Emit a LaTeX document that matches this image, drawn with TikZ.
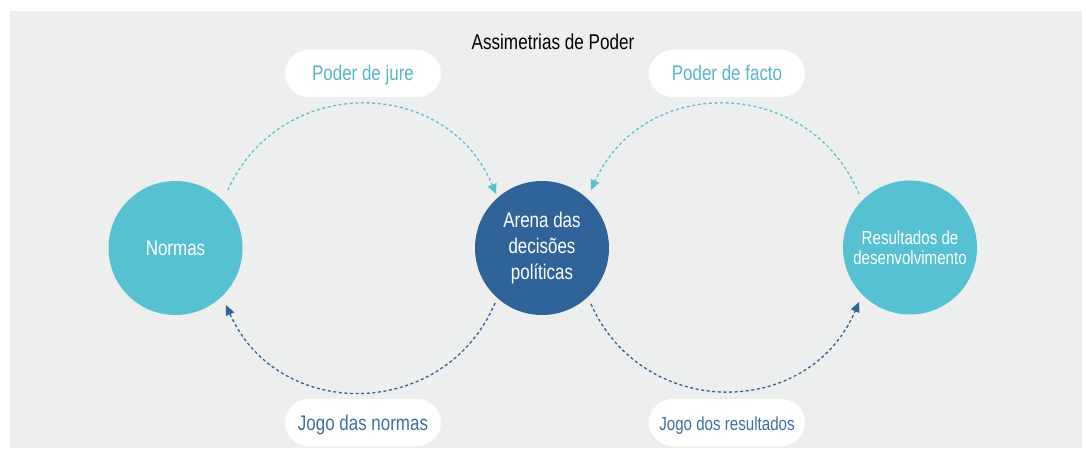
\documentclass[tikz,border=0pt]{standalone}
\usepackage{fontspec}
\setmainfont[FakeStretch=0.8]{Liberation Sans}
\usetikzlibrary{arrows.meta}
\definecolor{bggray}{HTML}{EDEEEE}
\definecolor{teal1}{HTML}{56C1D3}
\definecolor{navy1}{HTML}{2F6399}
\definecolor{tealtxt}{HTML}{5BB5C8}
\definecolor{navytxt}{HTML}{3E6FA8}
\tikzset{
  bubble/.style={circle, minimum size=134pt, inner sep=0pt, text=white, align=center,
    font=\fontsize{21.2}{26}\selectfont},
  pill/.style={rounded corners=23.5pt, fill=white, minimum width=156pt, minimum height=47pt,
    inner sep=0pt, text height=15pt, text depth=0pt, font=\fontsize{21.2}{24}\selectfont},
  flow/.style={line width=1.3pt, dash pattern=on 3pt off 2.6pt,
    -{Triangle[length=10pt,width=9pt]}},
}
\begin{document}
\begin{tikzpicture}[x=1pt,y=1pt]
\useasboundingbox (0,0) rectangle (1086,448);
\fill[bggray] (10,0) rectangle (1082,437);

\node[font=\fontsize{21.4}{24}\selectfont, anchor=base] (title) at (553,398) {Assimetrias de Poder};

\node[bubble, fill=teal1] (normas) at (175.5,200) {Normas};
\node[bubble, fill=navy1] (arena) at (542,200) {Arena das\\decisões\\políticas};
\node[bubble, fill=teal1, font=\fontsize{18.9}{20.5}\selectfont] (result) at (910,200.5) {Resultados de\\desenvolvimento};

\node[pill, text=tealtxt] (jure) at (363,374.5) {Poder de jure};
\node[pill, text=tealtxt] (facto) at (727,374.5) {Poder de facto};
\node[pill, text=navytxt] (jnormas) at (363,25.5) {Jogo das normas};
\node[pill, text=navytxt, font=\fontsize{18.9}{22}\selectfont] (jresult) at (727,25.5) {Jogo dos resultados};

\path (normas.center) ++(47.9:78.2) coordinate (s1);
\path (arena.center) ++(130.4:70.9) coordinate (e1);
\path (result.center) ++(133.6:73.9) coordinate (s2);
\path (arena.center) ++(49.8:75.9) coordinate (e2);
\path (arena.center) ++(229.5:72.3) coordinate (s3);
\path (normas.center) ++(-48.5:76.2) coordinate (e3);
\path (arena.center) ++(-48.8:74.4) coordinate (s4);
\path (result.center) ++(226.9:74.6) coordinate (e4);

\draw[flow, teal1] (s1) to[bend left=66.5, looseness=1.22] (e1);
\draw[flow, teal1] (s2) to[bend right=66.5, looseness=1.22] (e2);
\draw[flow, navy1] (s3) to[bend left=66.5, looseness=1.22] (e3);
\draw[flow, navy1] (s4) to[bend right=66.5, looseness=1.22] (e4);
\end{tikzpicture}
\end{document}
